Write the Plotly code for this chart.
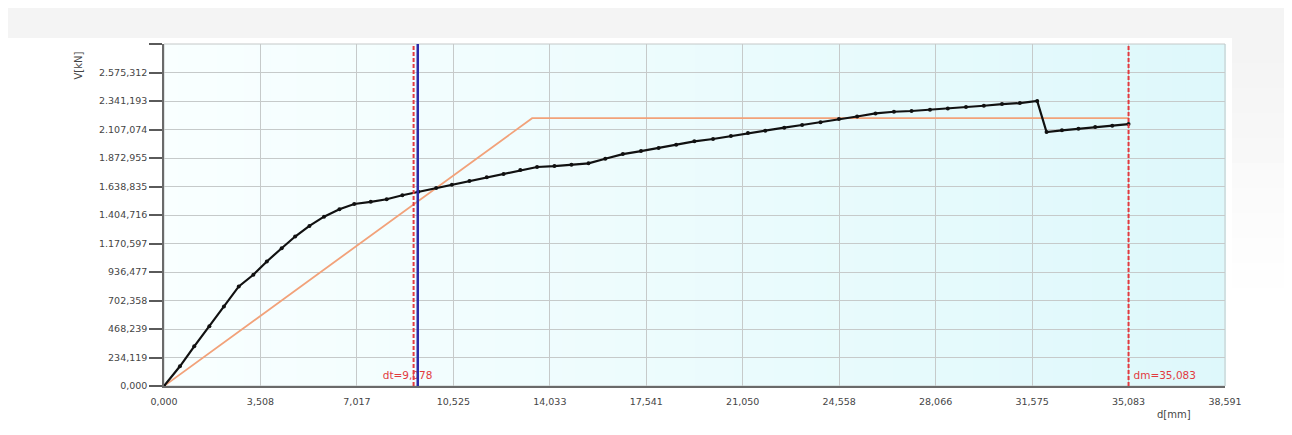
import plotly.graph_objects as go

# ---------------- data ----------------
d_mm = [0, 0.58, 1.10, 1.65, 2.18, 2.72, 3.25, 3.74, 4.28, 4.77, 5.29, 5.82, 6.38, 6.92,
        7.52, 8.10, 8.67, 9.25, 9.90, 10.47, 11.11, 11.74, 12.35, 12.96, 13.57, 14.20,
        14.82, 15.44, 16.05, 16.69, 17.35, 17.99, 18.63, 19.29, 19.97, 20.62, 21.24,
        21.87, 22.56, 23.21, 23.88, 24.55, 25.21, 25.88, 26.55, 27.19, 27.86, 28.51,
        29.17, 29.82, 30.48, 31.13, 31.76, 32.10, 32.66, 33.26, 33.87, 34.49, 35.083]
V_kN = [0, 162, 326, 490, 654, 818, 914, 1023, 1132, 1228, 1315, 1391, 1452, 1495,
        1513, 1534, 1567, 1595, 1627, 1654, 1684, 1714, 1741, 1774, 1799, 1807,
        1818, 1829, 1867, 1905, 1930, 1955, 1982, 2010, 2029, 2053, 2078,
        2097, 2122, 2144, 2166, 2193, 2214, 2239, 2253, 2259, 2269, 2280,
        2291, 2302, 2316, 2324, 2341, 2086, 2100, 2114, 2127, 2138, 2152]

bilinear_d = [0, 13.39, 35.083]
bilinear_V = [0, 2200, 2200]

dt_value = 9.078
dt_label = "dt=9,078"
dm_value = 35.083
dm_label = "dm=35,083"
blue_d = 9.23

x_tick_labels = ["0,000", "3,508", "7,017", "10,525", "14,033", "17,541", "21,050",
                 "24,558", "28,066", "31,575", "35,083", "38,591"]
y_tick_labels = ["0,000", "234,119", "468,239", "702,358", "936,477", "1.170,597",
                 "1.404,716", "1.638,835", "1.872,955", "2.107,074", "2.341,193",
                 "2.575,312", ""]

x_max = 38.591
y_max = 2809.43


def parse(s):
    return float(s.replace(".", "").replace(",", "."))


x_tick_vals = [parse(s) for s in x_tick_labels]
y_tick_vals = [parse(s) for s in y_tick_labels[:-1]] + [y_max]

FONT = "DejaVu Sans"
RED = "#e23a3f"
TXT = "#454545"

fig = go.Figure()

# bilinear (orange)
fig.add_trace(go.Scatter(x=bilinear_d, y=bilinear_V, mode="lines",
                         line=dict(color="#f2a27a", width=1.8),
                         hoverinfo="skip", showlegend=False))
# capacity curve (black)
fig.add_trace(go.Scatter(x=d_mm, y=V_kN, mode="lines+markers",
                         line=dict(color="#111111", width=2.2),
                         marker=dict(color="#111111", size=4),
                         showlegend=False))
# dt label text (drawn before blue line so line covers it like in reference)
fig.add_trace(go.Scatter(x=[8.86], y=[78], mode="text", text=[dt_label],
                         textfont=dict(family=FONT, size=10.5, color=RED),
                         textposition="middle center", hoverinfo="skip",
                         showlegend=False))
# red dashed lines
for xv in (dt_value, dm_value):
    fig.add_trace(go.Scatter(x=[xv, xv], y=[0, y_max], mode="lines",
                             line=dict(color=RED, width=2, dash="4px,2px"),
                             hoverinfo="skip", showlegend=False))
# blue line
fig.add_trace(go.Scatter(x=[blue_d, blue_d], y=[0, y_max], mode="lines",
                         line=dict(color="#2b2aa8", width=2.5),
                         hoverinfo="skip", showlegend=False))
# dm label
fig.add_trace(go.Scatter(x=[dm_value + 0.18], y=[78], mode="text", text=[dm_label],
                         textfont=dict(family=FONT, size=10.5, color=RED),
                         textposition="middle right", hoverinfo="skip",
                         showlegend=False))

# ---------------- background shapes ----------------
shapes = []
n = 80
c0 = (249, 255, 255)
c1 = (222, 248, 251)
for i in range(n):
    t = (i + 0.5) / n
    c = tuple(round(c0[k] + (c1[k] - c0[k]) * t) for k in range(3))
    shapes.append(dict(type="rect", xref="paper", yref="paper",
                       x0=i / n, x1=(i + 1) / n + 0.001, y0=0, y1=1,
                       fillcolor="rgb(%d,%d,%d)" % c, line=dict(width=0),
                       layer="below"))
# outer panel light grey (top band and right band), in screen pixels
pw, ph = 1061.0, 342.0
def px_x(p):
    return (p - 164) / pw
def px_y(p):
    return (386 - p) / ph
shapes.append(dict(type="rect", xref="paper", yref="paper",
                   x0=px_x(8), x1=px_x(1292), y0=px_y(38), y1=px_y(8),
                   fillcolor="#f4f4f4", line=dict(width=0), layer="below"))
for j in range(10):
    y_top = 38 + j * 25
    g = 244 + round(11 * j / 10)
    shapes.append(dict(type="rect", xref="paper", yref="paper",
                       x0=px_x(1232), x1=px_x(1292), y0=px_y(y_top + 25), y1=px_y(y_top),
                       fillcolor="rgb(%d,%d,%d)" % (g, g, g), line=dict(width=0),
                       layer="below"))
# plot border (light grey top/right)
shapes.append(dict(type="rect", xref="paper", yref="paper", x0=0, x1=1, y0=0, y1=1,
                   line=dict(color="#c4c8c8", width=1), fillcolor="rgba(0,0,0,0)",
                   layer="below"))

# page body has an 8px margin: figure occupies 8..1292 x 8..435
fig.update_layout(
    width=1284, height=427,
    margin=dict(l=156, r=67, t=36, b=49),
    paper_bgcolor="white", plot_bgcolor="rgba(0,0,0,0)",
    font=dict(family=FONT, size=10, color=TXT),
    shapes=shapes,
    xaxis=dict(range=[0, x_max], tickvals=x_tick_vals, ticktext=x_tick_labels,
               showgrid=True, gridcolor="#c6caca", gridwidth=1, zeroline=False,
               showline=True, linecolor="#6a6a6a", linewidth=1.5,
               ticks="outside", ticklen=6, tickcolor="rgba(0,0,0,0)",
               tickfont=dict(family=FONT, size=9.5, color=TXT)),
    yaxis=dict(range=[0, y_max], tickvals=y_tick_vals, ticktext=y_tick_labels,
               showgrid=True, gridcolor="#c6caca", gridwidth=1, zeroline=False,
               showline=True, linecolor="#6a6a6a", linewidth=1.5,
               ticks="outside", ticklen=13, tickcolor="#5a5a5a", tickwidth=1.5,
               tickfont=dict(family=FONT, size=9.5, color=TXT)),
    annotations=[
        dict(text="V[kN]", xref="paper", yref="paper", x=px_x(70), y=px_y(50),
             showarrow=False, textangle=-90,
             font=dict(family=FONT, size=10, color=TXT)),
        dict(text="d[mm]", xref="paper", yref="paper", x=px_x(1193), y=px_y(422),
             showarrow=False, font=dict(family=FONT, size=10, color=TXT)),
    ],
)

fig.write_html("out.html")
